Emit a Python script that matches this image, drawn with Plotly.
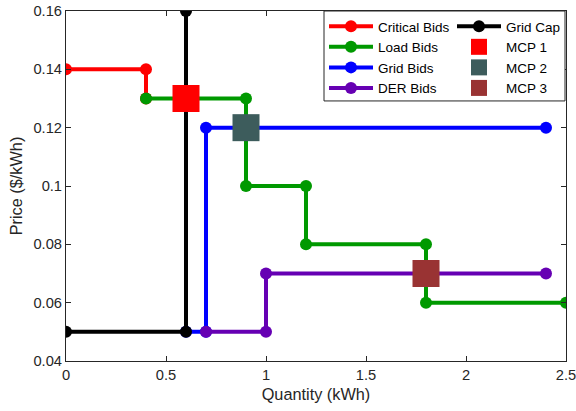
import plotly.graph_objects as go

crit_x = [0, 0.4, 0.4]
crit_y = [0.14, 0.14, 0.13]
load_x = [0.4, 0.9, 0.9, 1.2, 1.2, 1.8, 1.8, 2.5]
load_y = [0.13, 0.13, 0.10, 0.10, 0.08, 0.08, 0.06, 0.06]
grid_x = [0.6, 0.7, 0.7, 2.4]
grid_y = [0.05, 0.05, 0.12, 0.12]
der_x = [0.7, 1.0, 1.0, 2.4]
der_y = [0.05, 0.05, 0.07, 0.07]
cap_x = [0, 0.6, 0.6]
cap_y = [0.05, 0.05, 0.16]
mcp_names = ["MCP 1", "MCP 2", "MCP 3"]
mcp_x = [0.6, 0.9, 1.8]
mcp_y = [0.13, 0.12, 0.07]
mcp_colors = ["#ff0000", "#3d5c5c", "#993333"]

FONT = "Liberation Sans, Arial, sans-serif"
fig = go.Figure()
def line(x, y, name, color, leg):
    fig.add_trace(go.Scatter(x=x, y=y, name=name, mode="lines+markers", legend=leg,
                             line=dict(color=color, width=4),
                             marker=dict(color=color, size=12)))

line(crit_x, crit_y, "Critical Bids", "#ff0000", "legend")
line(load_x, load_y, "Load Bids", "#009900", "legend")
line(grid_x, grid_y, "Grid Bids", "#0000ff", "legend")
line(der_x, der_y, "DER Bids", "#6600b3", "legend")
line(cap_x, cap_y, "Grid Cap", "#000000", "legend2")
for n, x, y, c in zip(mcp_names, mcp_x, mcp_y, mcp_colors):
    fig.add_trace(go.Scatter(x=[x], y=[y], name=n, mode="markers", legend="legend2",
                             marker=dict(symbol="square", size=27, color=c)))

axis_common = dict(showgrid=False, zeroline=False, showline=True, linecolor="#262626",
                   linewidth=1, mirror="ticks", ticks="inside", ticklen=5, automargin=False,
                   ticklabeloverflow="allow",
                   tickcolor="#262626", tickfont=dict(family=FONT, size=14.7, color="#262626"))
fig.update_xaxes(range=[0, 2.5], tickvals=[0, 0.5, 1, 1.5, 2, 2.5],
                 ticktext=["0", "0.5", "1", "1.5", "2", "2.5"],
                 title=dict(text="Quantity (kWh)", font=dict(family=FONT, size=16.3, color="#262626"), standoff=6),
                 **axis_common)
fig.update_yaxes(range=[0.04, 0.16], tickvals=[0.04, 0.06, 0.08, 0.1, 0.12, 0.14, 0.16],
                 ticktext=["0.04", "0.06", "0.08", "0.1", "0.12", "0.14", "0.16"],
                 title=dict(text="Price ($/kWh)", font=dict(family=FONT, size=16.3, color="#262626"), standoff=6),
                 **axis_common)
leg_common = dict(yanchor="top", xanchor="left", y=1.0, borderwidth=0, bgcolor="rgba(0,0,0,0)",
                  font=dict(family=FONT, size=13.5, color="#000000"), tracegroupgap=0, itemwidth=44)
fig.update_layout(width=576, height=411, margin=dict(l=66, r=10, t=11, b=50, autoexpand=False),
                  plot_bgcolor="white", paper_bgcolor="white",
                  legend=dict(x=0.516, **leg_common),
                  legend2=dict(x=0.772, **leg_common),
                  shapes=[dict(type="rect", xref="paper", yref="paper", x0=0.516, x1=0.998, y0=0.743, y1=1.0,
                               line=dict(color="#262626", width=1), fillcolor="white", layer="above")])
fig.write_html("out.html")
